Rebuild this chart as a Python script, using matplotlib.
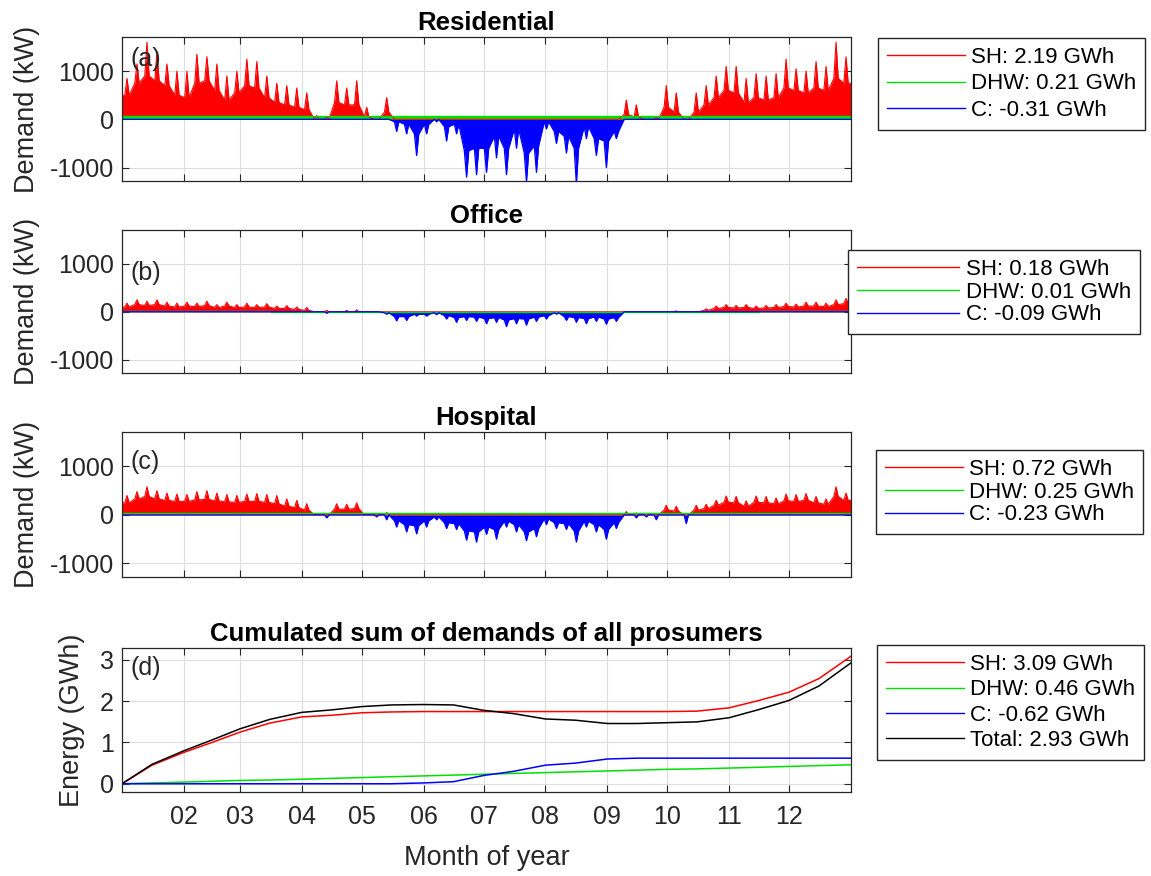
import matplotlib
matplotlib.use("Agg")
import matplotlib.pyplot as plt
from matplotlib.lines import Line2D

plt.rcParams['font.family'] = ['Liberation Sans', 'DejaVu Sans']
plt.rcParams['axes.unicode_minus'] = False

# ---------------- data ----------------
# 5-day bins over the year (start day of each bin)
bin_start = list(range(0, 365, 5))

# Residential: space heating, peak per bin and body level per bin (kW)
res_sh_hi = [850, 1150, 1600, 1400, 1150, 1000, 1000, 1350, 1300, 1150, 900, 1000, 1250, 1200, 900,
             750, 700, 650, 550, 80, 50, 800, 650, 800, 250, 0, 450,
             0, 0, 0, 0, 0, 0, 0, 0, 0, 0, 0, 0, 0, 0, 0, 0, 0, 0, 0, 0, 0, 0, 0,
             400, 300, 0, 30, 700, 550, 0, 550, 700, 900, 1100, 1100, 850, 950, 900, 950, 1250,
             1050, 1000, 1200, 1100, 1600, 1300]
res_sh_lo = [500, 750, 900, 800, 700, 500, 450, 750, 800, 600, 400, 550, 700, 650, 450,
             350, 300, 250, 200, 0, 0, 350, 300, 300, 50, 0, 150,
             0, 0, 0, 0, 0, 0, 0, 0, 0, 0, 0, 0, 0, 0, 0, 0, 0, 0, 0, 0, 0, 0, 0,
             100, 50, 0, 0, 250, 150, 0, 150, 300, 450, 600, 550, 350, 450, 400, 450, 650,
             600, 550, 650, 600, 850, 750]
# Residential: cooling, deepest value and body level per bin (kW)
res_c_lo = [0] * 27 + [-250, -300, -750, -300, -50, -450, -300, -1200, -1150, -1100, -800, -1150,
                       -600, -1300, -1100, -200, -500, -700, -1350, -400, -750, -1000, -400] + [0] * 23
res_c_hi = [0] * 27 + [-50, -100, -300, -100, 0, -150, -100, -650, -600, -600, -350, -600,
                       -200, -700, -550, -50, -250, -350, -600, -150, -400, -450, -250] + [0] * 23

# Office
off_sh_hi = [180, 250, 220, 250, 200, 180, 200, 180, 220, 150, 200, 150, 180, 150, 170, 120, 130, 100,
             90, 0, 30, 0, 30, 40] + [0] * 31 + [20, 0, 0,
             60, 120, 150, 130, 150, 120, 130, 150, 180, 160, 200, 200, 180, 250, 280]
off_sh_lo = [100, 150, 130, 150, 120, 100, 120, 110, 130, 90, 120, 90, 100, 90, 100, 70, 70, 50,
             30, 0, 0, 0, 0, 0] + [0] * 31 + [0, 0, 0,
             30, 70, 90, 80, 90, 70, 80, 90, 110, 100, 120, 120, 110, 150, 170]
off_c_lo = [0] * 20 + [-30, 0, 0, 0, 0, 0, -50, -190, -180, -90, -90, -60, -150, -220, -180, -200,
                       -250, -220, -310, -250, -280, -200, -150, -50, -180, -220, -250, -200,
                       -260, -200] + [0] * 23
off_c_hi = [0] * 20 + [0, 0, 0, 0, 0, 0, -20, -100, -100, -50, -50, -20, -80, -120, -100, -110,
                       -140, -120, -170, -140, -150, -110, -80, -20, -100, -120, -140, -110,
                       -150, -120] + [0] * 23

# Hospital
hos_sh_hi = [400, 480, 580, 500, 450, 430, 420, 480, 500, 450, 420, 400, 430, 440, 420, 400, 330, 300,
             230, 0, 0, 230, 220, 250, 0, 0, 50] + [0] * 23 + [70, 40, 0, 0, 200, 180, 0,
             200, 220, 300, 390, 380, 290, 390, 380, 350, 430, 420, 440, 380, 330, 580, 450]
hos_sh_lo = [250, 330, 380, 330, 300, 280, 280, 310, 320, 290, 270, 260, 280, 280, 260, 230, 180, 150,
             100, 0, 0, 120, 120, 130, 0, 0, 0] + [0] * 23 + [0, 0, 0, 0, 100, 80, 0,
             100, 130, 200, 260, 250, 180, 260, 250, 230, 290, 280, 300, 250, 220, 380, 300]
hos_c_lo = [0] * 20 + [-60, 0, 0, 0, 0, -40, -100, -250, -350, -390, -250, -100, -280, -300, -520,
                       -560, -400, -500, -250, -350, -530, -450, -200, -280, -300, -560, -250,
                       -350, -500, -280, 0, -60, -40, -100, 0, 0, -180] + [0] * 16
hos_c_hi = [0] * 20 + [0, 0, 0, 0, 0, 0, 0, -120, -200, -220, -120, -40, -160, -180, -330,
                       -350, -250, -300, -130, -200, -350, -280, -80, -160, -180, -330, -130,
                       -200, -300, -160, 0, 0, 0, 0, 0, 0, 0] + [0] * 16

# Domestic hot water: monthly peak level (kW)
month_mid_day = [0, 31, 59, 90, 120, 151, 181, 212, 243, 273, 304, 334, 365]
res_dhw = [80, 80, 78, 75, 72, 68, 62, 60, 62, 68, 74, 78, 80]
off_dhw = [6, 6, 6, 5, 5, 4, 4, 4, 4, 5, 5, 6, 6]
hos_dhw = [45, 45, 44, 42, 40, 38, 36, 35, 36, 38, 42, 44, 45]

# Cumulated sums (GWh), all prosumers
cum_day = [0, 15, 31, 45, 59, 74, 90, 105, 120, 135, 151, 166, 181, 196, 212, 227, 243, 258, 273,
           288, 304, 319, 334, 349, 365]
cum_sh = [0, 0.45, 0.76, 1.00, 1.25, 1.47, 1.62, 1.66, 1.72, 1.74, 1.75, 1.75, 1.75, 1.75, 1.75,
          1.75, 1.75, 1.75, 1.75, 1.76, 1.84, 2.02, 2.22, 2.55, 3.09]
cum_dhw = [0, 0.02, 0.04, 0.06, 0.08, 0.09, 0.11, 0.13, 0.15, 0.17, 0.19, 0.21, 0.23, 0.25, 0.27,
           0.29, 0.31, 0.33, 0.35, 0.36, 0.38, 0.40, 0.42, 0.44, 0.46]
cum_c = [0, 0, 0, 0, 0, 0, 0, 0, 0, 0, 0.02, 0.05, 0.20, 0.30, 0.45, 0.50, 0.60, 0.62, 0.62,
         0.62, 0.62, 0.62, 0.62, 0.62, 0.62]

month_ticks = [31, 59, 90, 120, 151, 181, 212, 243, 273, 304, 334]
month_labels = ['02', '03', '04', '05', '06', '07', '08', '09', '10', '11', '12']

titles = ['Residential', 'Office', 'Hospital', 'Cumulated sum of demands of all prosumers']
panel_tags = ['(a)', '(b)', '(c)', '(d)']
leg_res = ['SH: 2.19 GWh', 'DHW: 0.21 GWh', 'C: -0.31 GWh']
leg_off = ['SH: 0.18 GWh', 'DHW: 0.01 GWh', 'C: -0.09 GWh']
leg_hos = ['SH: 0.72 GWh', 'DHW: 0.25 GWh', 'C: -0.23 GWh']
leg_cum = ['SH: 3.09 GWh', 'DHW: 0.46 GWh', 'C: -0.62 GWh', 'Total: 2.93 GWh']

# ---------------- style ----------------
RED, GREEN, BLUE = '#ff0000', '#00e000', '#0000ff'
W, H = 1151, 876
fig = plt.figure(figsize=(W / 100, H / 100), dpi=100)


def px_axes(x0, y0, x1, y1):
    return fig.add_axes([x0 / W, 1 - y1 / H, (x1 - x0) / W, (y1 - y0) / H])


def needles(peak, body):
    """Body level between bins, a narrow spike to the peak inside each bin."""
    xs, ys = [0], [body[0]]
    for d, p, b in zip(bin_start, peak, body):
        xs += [d + 1.4, d + 2.5, d + 3.6]
        ys += [b, p, b]
    xs.append(365)
    ys.append(body[-1])
    return xs, ys


def style(ax, ylim, yticks, show_x):
    ax.set_xlim(0, 365)
    ax.set_ylim(*ylim)
    ax.set_yticks(yticks)
    ax.set_xticks(month_ticks)
    ax.set_xticklabels(month_labels if show_x else [])
    ax.grid(True, color='#dddddd', lw=0.8)
    ax.set_axisbelow(True)
    ax.tick_params(direction='in', top=True, right=True, length=5, width=0.8,
                   labelsize=18, colors='#262626', pad=6)
    ax.tick_params(axis='x', pad=9)
    for s in ax.spines.values():
        s.set_color('#262626')
        s.set_linewidth(0.9)


def legend(ax, labels, colors, x0, y0, hl, ls):
    handles = [Line2D([], [], color=c, lw=1.0) for c in colors]
    ax.legend(handles, labels, loc='upper left', bbox_to_anchor=(x0 / W, 1 - y0 / H),
              bbox_transform=fig.transFigure, borderaxespad=0, fontsize=16,
              frameon=True, fancybox=False, edgecolor='#262626', framealpha=1,
              handlelength=hl, handletextpad=0.3, labelspacing=ls, borderpad=0.4)


boxes = [(122, 37, 851, 181), (122, 230, 851, 373), (122, 432, 851, 577)]
bldg = [
    (res_sh_hi, res_sh_lo, res_c_lo, res_c_hi, res_dhw, leg_res, (878, 38), 3.5, 0.25, 0.85),
    (off_sh_hi, off_sh_lo, off_c_lo, off_c_hi, off_dhw, leg_off, (848, 250), 4.6, 0.08, 0.70),
    (hos_sh_hi, hos_sh_lo, hos_c_lo, hos_c_hi, hos_dhw, leg_hos, (876, 450), 3.5, 0.08, 0.79),
]

for i, (box, b) in enumerate(zip(boxes, bldg)):
    sh_hi, sh_lo, c_lo, c_hi, dhw, labs, lpos, hl, ls, tagy = b
    ax = px_axes(*box)
    xs, ys = needles(sh_hi, sh_lo)
    ax.fill_between(xs, 0, ys, color=RED, lw=0)
    ax.plot(xs, ys, color=RED, lw=0.8)
    ax.fill_between(month_mid_day, 0, dhw, step='mid', color=GREEN, lw=0)
    ax.plot(month_mid_day, dhw, color=GREEN, lw=1.0, drawstyle='steps-mid')
    xc, yc = needles(c_lo, c_hi)
    ax.fill_between(xc, 0, yc, color=BLUE, lw=0)
    ax.plot(xc, yc, color=BLUE, lw=0.9)
    style(ax, (-1280, 1710), [-1000, 0, 1000], False)
    ax.set_title(titles[i], fontsize=18.5, fontweight='bold', pad=5)
    ax.set_ylabel('Demand (kW)', fontsize=19.5, color='#262626')
    ax.yaxis.set_label_coords(-0.112, 0.5)
    ax.text(0.012, tagy, panel_tags[i], transform=ax.transAxes, fontsize=18,
            va='center', ha='left', color='#262626')
    legend(ax, labs, [RED, GREEN, BLUE], lpos[0], lpos[1], hl, ls)

ax = px_axes(122, 648, 851, 792)
cum_total = [s + d - c for s, d, c in zip(cum_sh, cum_dhw, cum_c)]
ax.plot(cum_day, cum_sh, color=RED, lw=1.1)
ax.plot(cum_day, cum_dhw, color=GREEN, lw=1.1)
ax.plot(cum_day, cum_c, color=BLUE, lw=1.1)
ax.plot(cum_day, cum_total, color='black', lw=1.1)
style(ax, (-0.2, 3.29), [0, 1, 2, 3], True)
ax.set_title(titles[3], fontsize=18.5, fontweight='bold', pad=5)
ax.set_ylabel('Energy (GWh)', fontsize=19.5, color='#262626')
ax.yaxis.set_label_coords(-0.051, 0.5)
ax.set_xlabel('Month of year', fontsize=19.5, color='#262626', labelpad=12)
ax.text(0.012, 0.86, panel_tags[3], transform=ax.transAxes, fontsize=18,
        va='center', ha='left', color='#262626')
legend(ax, leg_cum, [RED, GREEN, BLUE, 'black'], 877, 645, 3.5, 0.2)

fig.savefig('out.png', dpi=100, facecolor='white')
